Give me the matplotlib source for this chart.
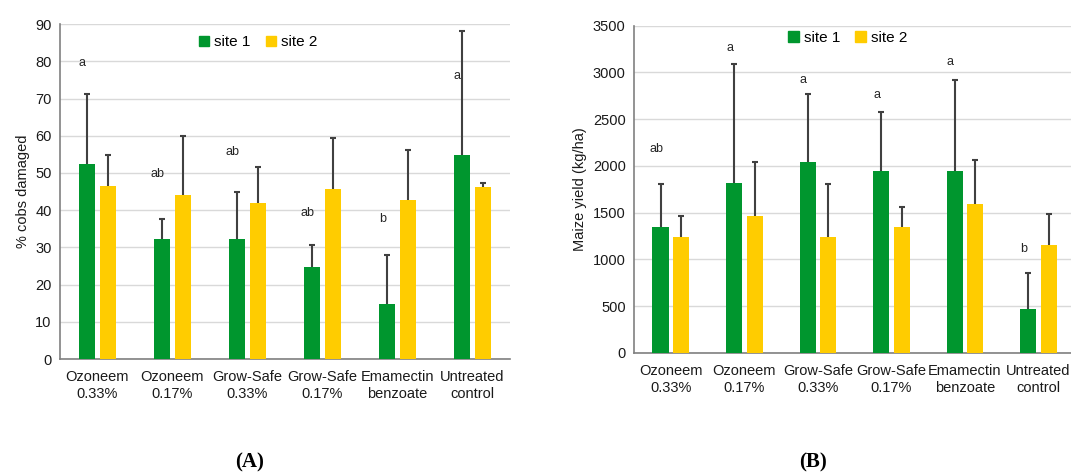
import numpy as np
import matplotlib
matplotlib.use("Agg")
import matplotlib.pyplot as plt
from matplotlib.patches import Patch

plt.rcParams['font.family'] = ['Liberation Sans', 'DejaVu Sans']

# treatments (x axis)
categories = ['Ozoneem\n0.33%', 'Ozoneem\n0.17%', 'Grow-Safe\n0.33%',
              'Grow-Safe\n0.17%', 'Emamectin\nbenzoate', 'Untreated\ncontrol']

# panel A: % cobs damaged
damage_site1 = [52.3, 32.3, 32.3, 24.8, 14.9, 54.7]
damage_site2 = [46.5, 44.2, 41.8, 45.7, 42.6, 46.3]
damage_err1 = [18.9, 5.2, 12.6, 5.9, 13.0, 33.4]
damage_err2 = [8.4, 15.6, 9.8, 13.7, 13.7, 1.1]
damage_letters = ['a', 'ab', 'ab', 'ab', 'b', 'a']
damage_letter_y = [79.5, 49.8, 55.6, 39.3, 37.5, 76.0]

# panel B: maize yield (kg/ha)
yield_site1 = [1342, 1812, 2040, 1940, 1947, 473]
yield_site2 = [1239, 1463, 1239, 1349, 1591, 1150]
yield_err1 = [467, 1282, 730, 638, 976, 378]
yield_err2 = [224, 573, 562, 210, 470, 331]
yield_letters = ['ab', 'a', 'a', 'a', 'a', 'b']
yield_letter_y = [2180, 3265, 2920, 2760, 3115, 1115]

green = '#00962e'
yellow = '#ffcc00'
errc = '#404040'

fig = plt.figure(figsize=(10.71, 4.73), dpi=100)
axA = fig.add_axes([0.056, 0.241, 0.420, 0.708])
axB = fig.add_axes([0.592, 0.254, 0.412, 0.692])

x = np.arange(len(categories))
w = 0.22
off = 0.14


def upper_err(ax, xs, ys, e):
    # one-sided error bars: drop the lower caps
    _, caps, _ = ax.errorbar(xs, ys, yerr=[np.zeros(len(xs)), e], fmt='none',
                             ecolor=errc, elinewidth=1.5, capsize=2.5,
                             capthick=1.5, zorder=4)
    caps[0].remove()


def draw_panel(ax, s1, s2, e1, e2, letters, ly, ymax, step, ylabel, leg_x, leg_y):
    ax.bar(x - off, s1, w, color=green, zorder=3)
    ax.bar(x + off, s2, w, color=yellow, zorder=3)
    upper_err(ax, x - off, s1, e1)
    upper_err(ax, x + off, s2, e2)
    for i in range(len(x)):
        ax.text(x[i] - off - 0.06, ly[i], letters[i], ha='center', va='center',
                fontsize=9, color='#262626')
    ax.set_xlim(-0.5, len(x) - 0.5)
    ax.set_ylim(0, ymax)
    ax.set_yticks(np.arange(0, ymax + step, step))
    ax.set_xticks(x)
    ax.set_xticklabels(categories, fontsize=10.5, linespacing=1.25)
    ax.tick_params(axis='both', length=0, labelsize=10.5, colors='#1a1a1a')
    ax.tick_params(axis='x', pad=8)
    ax.tick_params(axis='y', pad=6)
    ax.grid(axis='y', color='#d9d9d9', lw=1, zorder=0)
    for s in ['top', 'right']:
        ax.spines[s].set_visible(False)
    for s in ['left', 'bottom']:
        ax.spines[s].set_color('#808080')
        ax.spines[s].set_linewidth(1.2)
    ax.set_ylabel(ylabel, fontsize=10.5, color='#1a1a1a', labelpad=4)
    handles = [Patch(color=green, label='site 1'), Patch(color=yellow, label='site 2')]
    ax.legend(handles=handles, loc='center', bbox_to_anchor=(leg_x, leg_y), ncol=2,
              frameon=False, fontsize=11, handlelength=0.7, handleheight=0.7,
              handletextpad=0.3, columnspacing=1.0)


draw_panel(axA, damage_site1, damage_site2, damage_err1, damage_err2,
           damage_letters, damage_letter_y, 90, 10, '% cobs damaged', 0.44, 0.946)
draw_panel(axB, yield_site1, yield_site2, yield_err1, yield_err2,
           yield_letters, yield_letter_y, 3500, 500, 'Maize yield (kg/ha)', 0.484, 0.962)

# panel labels
fig.text(250 / 1071, 1 - 462 / 473, '(A)', ha='center', va='center',
         fontsize=15, fontweight='bold', family='Liberation Serif')
fig.text(813 / 1071, 1 - 462 / 473, '(B)', ha='center', va='center',
         fontsize=15, fontweight='bold', family='Liberation Serif')

fig.savefig('out.png', dpi=100)
